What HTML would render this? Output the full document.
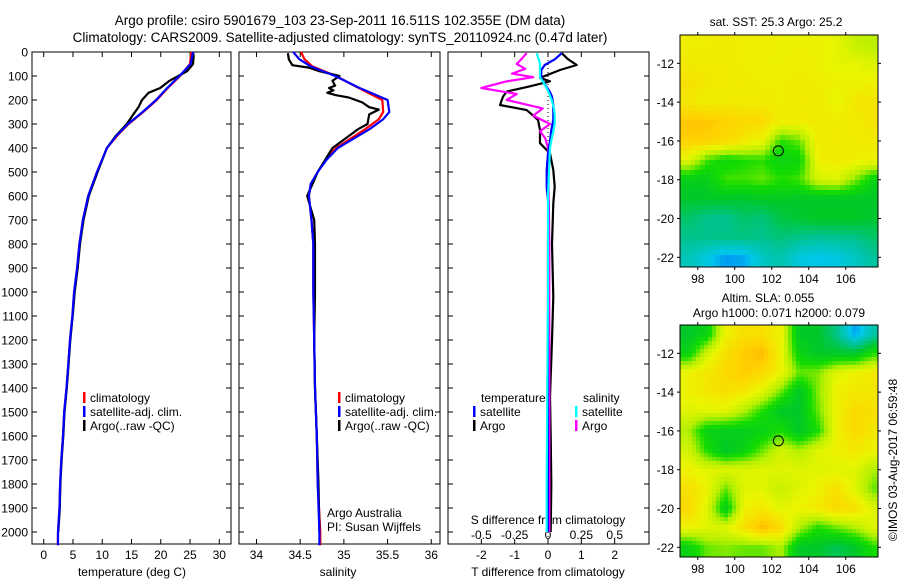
<!DOCTYPE html>
<html><head><meta charset="utf-8">
<style>
html,body{margin:0;padding:0;background:#fff;}
svg{display:block;font-family:"Liberation Sans",sans-serif;}
text{fill:#000;}
</style></head>
<body>
<svg id="fig" width="900" height="580" viewBox="0 0 900 580" xmlns="http://www.w3.org/2000/svg">
<rect x="0" y="0" width="900" height="580" fill="#fff"/>
<text x="340" y="25" font-size="13.5" text-anchor="middle">Argo profile: csiro 5901679_103 23-Sep-2011 16.511S 102.355E (DM data)</text>
<text x="340" y="42" font-size="13.5" text-anchor="middle">Climatology: CARS2009. Satellite-adjusted climatology: synTS_20110924.nc (0.47d later)</text>
<g id="g1"></g>
<g id="g2"></g>
<g id="g3"></g>
<g id="m1"></g>
<g id="m2"></g>
<text x="776" y="26" font-size="12" text-anchor="middle">sat. SST: 25.3 Argo: 25.2</text>
<text x="768" y="302" font-size="12" text-anchor="middle">Altim. SLA: 0.055</text>
<text x="779" y="317" font-size="12" text-anchor="middle">Argo h1000: 0.071 h2000: 0.079</text>
<text transform="translate(897,460) rotate(-90)" font-size="12" text-anchor="middle">©IMOS 03-Aug-2017 06:59:48</text>
</svg>
<script>
// ---- data ----
const depthTicks=[0,100,200,300,400,500,600,700,800,900,1000,1100,1200,1300,1400,1500,1600,1700,1800,1900,2000];
const tempTicks=[0,5,10,15,20,25,30];
const salTicks=[34,34.5,35,35.5,36];
const salTickLabels=["34","34.5","35","35.5","36"];
const tdiffTicks=[-2,-1,0,1,2];
const sdiffTicks=[-0.5,-0.25,0,0.25,0.5];
const sdiffTickLabels=["-0.5","-0.25","0","0.25","0.5"];
const lonTicks=[98,100,102,104,106];
const latTicks=[-12,-14,-16,-18,-20,-22];

const climDepth=[0,50,100,150,200,250,300,350,400,500,600,700,800,900,1000,1100,1200,1300,1400,1500,1600,1700,1800,1900,2000,2055];
const tempClim=[25.2,25.0,23.3,21.2,19.3,17.0,14.5,12.5,10.8,9.1,7.6,6.7,6.1,5.7,5.2,4.9,4.5,4.2,3.9,3.5,3.3,3.0,2.8,2.7,2.45,2.4];
const tempSat=[25.5,25.1,23.2,21.1,19.2,16.9,14.4,12.4,10.8,9.1,7.6,6.7,6.1,5.7,5.2,4.9,4.5,4.2,3.9,3.5,3.3,3.0,2.8,2.7,2.45,2.45];
const argoDepth=[5,25,50,80,100,120,150,170,200,230,260,300,350,400,500,600,700,800,900,1000,1100,1200,1300,1400,1500,1600,1700,1800,1900,2000];
const tempArgo=[25.6,25.6,25.5,24.5,23.0,21.5,19.9,17.9,16.8,16.2,15.3,14.2,12.3,10.8,9.2,7.7,6.8,6.2,5.8,5.3,4.95,4.55,4.25,3.95,3.55,3.35,3.05,2.85,2.75,2.5];

const salDepthC=[0,30,60,100,150,200,250,280,320,400,450,500,550,600,700,800,900,1000,1200,1400,1600,1800,2000,2055];
const salClim=[34.51,34.55,34.64,34.91,35.17,35.44,35.45,35.40,35.25,34.91,34.79,34.70,34.62,34.60,34.63,34.65,34.65,34.65,34.66,34.67,34.69,34.70,34.73,34.73];
const salSat=[34.42,34.49,34.62,34.90,35.18,35.50,35.52,35.45,35.30,34.93,34.80,34.70,34.62,34.60,34.63,34.65,34.65,34.65,34.66,34.67,34.69,34.70,34.72,34.72];
const salArgoDepth=[5,30,55,65,80,100,120,140,150,160,170,180,190,210,230,240,260,300,320,400,500,600,700,800,1000,1200,1400,1600,1800,2000];
const salArgo=[34.36,34.37,34.41,34.60,34.72,34.95,34.87,34.90,34.83,34.88,34.81,34.91,35.06,35.21,35.29,35.40,35.29,35.27,35.17,34.87,34.70,34.58,34.66,34.67,34.67,34.66,34.67,34.69,34.71,34.72];

const tdDepth=[5,30,54,75,108,122,143,165,186,221,242,283,325,380,422,492,561,631,800,1019,1200,1436,1600,1800,2000];
const tdArgo=[0.41,0.6,0.86,0.36,-0.24,0.06,-0.54,-1.24,-1.35,-1.44,-0.64,-0.30,-0.24,-0.24,0.06,0.16,0.20,0.16,0.12,0.16,0.12,0.06,0.08,0.10,0.08];
const tdSat=[0.41,0.21,-0.10,-0.20,-0.20,-0.15,-0.05,0.05,0.12,0.16,0.16,0.16,0.10,0.05,0.0,-0.04,-0.04,0.01,0.0,0.0,0.0,0.0,0.0,0.0,0.0];
const sdDepth=[5,30,50,70,90,105,122,150,175,200,235,265,300,330,360,400,600,800,1000,1400,1800,2000];
const sdArgo=[-0.16,-0.20,-0.235,-0.17,-0.27,-0.11,-0.31,-0.50,-0.235,-0.31,-0.04,-0.11,0.015,-0.06,-0.02,0.0,0.005,0.01,0.01,0.01,0.01,0.01];
const sdSat=[-0.085,-0.07,-0.06,-0.06,-0.06,-0.06,-0.04,-0.01,0.01,0.028,0.045,0.05,0.05,0.04,0.028,0.015,0.0,0.0,0.0,-0.005,-0.01,-0.01];

const mapLats=[-11,-12,-13,-14,-15,-16,-17,-18,-19,-20,-21,-22];
const mapLons=[97.5,98.5,99.5,100.5,101.5,102.5,103.5,104.5,105.5,106.5,107.5];
const sstGrid=[
[0.76,0.76,0.77,0.76,0.76,0.75,0.75,0.75,0.73,0.68,0.66],
[0.77,0.77,0.77,0.76,0.75,0.75,0.76,0.75,0.73,0.73,0.71],
[0.80,0.78,0.77,0.77,0.76,0.76,0.77,0.76,0.75,0.75,0.75],
[0.78,0.76,0.77,0.77,0.77,0.76,0.77,0.77,0.73,0.78,0.79],
[0.86,0.86,0.84,0.82,0.82,0.76,0.77,0.77,0.77,0.77,0.79],
[0.84,0.84,0.82,0.78,0.74,0.56,0.60,0.77,0.77,0.77,0.77],
[0.72,0.58,0.52,0.55,0.56,0.50,0.52,0.75,0.77,0.76,0.75],
[0.48,0.48,0.58,0.58,0.60,0.56,0.58,0.70,0.72,0.62,0.50],
[0.45,0.45,0.45,0.44,0.46,0.46,0.45,0.45,0.45,0.45,0.45],
[0.38,0.34,0.33,0.38,0.36,0.42,0.44,0.46,0.46,0.46,0.44],
[0.34,0.34,0.35,0.35,0.34,0.36,0.34,0.32,0.33,0.34,0.38],
[0.28,0.22,0.14,0.16,0.26,0.30,0.22,0.20,0.22,0.26,0.32]];
const slaGrid=[
[0.45,0.50,0.75,0.80,0.80,0.75,0.45,0.45,0.35,0.15,0.30],
[0.50,0.70,0.80,0.85,0.88,0.75,0.50,0.45,0.45,0.45,0.55],
[0.75,0.78,0.82,0.85,0.82,0.75,0.60,0.62,0.72,0.75,0.78],
[0.75,0.78,0.80,0.78,0.72,0.60,0.45,0.62,0.75,0.78,0.78],
[0.72,0.72,0.72,0.65,0.55,0.45,0.45,0.60,0.75,0.82,0.80],
[0.65,0.50,0.48,0.48,0.50,0.55,0.45,0.55,0.75,0.82,0.78],
[0.70,0.55,0.45,0.50,0.60,0.70,0.65,0.72,0.75,0.78,0.75],
[0.75,0.72,0.72,0.72,0.72,0.72,0.72,0.72,0.72,0.72,0.65],
[0.80,0.75,0.60,0.72,0.72,0.68,0.72,0.75,0.80,0.72,0.60],
[0.82,0.72,0.48,0.75,0.78,0.72,0.75,0.78,0.82,0.80,0.72],
[0.75,0.72,0.72,0.80,0.88,0.82,0.65,0.55,0.60,0.65,0.72],
[0.50,0.60,0.62,0.60,0.60,0.65,0.45,0.45,0.40,0.45,0.55]];
const argoLon=[102.355];
const argoLat=[-16.511];

// ---- helpers ----
const NS='http://www.w3.org/2000/svg';
function mk(parent,tag,attrs,txt){const e=document.createElementNS(NS,tag);for(const k in attrs)e.setAttribute(k,attrs[k]);if(txt!==undefined)e.textContent=txt;parent.appendChild(e);return e;}
const PT=52,PB=544;
const yD=d=>52+d*0.24;
const xT=t=>32+(t+2)*199/34;
const xS=s=>239+(s-33.8)*201/2.3;
const xTd=t=>448+(t+3)*200/6;
const xSd=s=>448+(s+0.75)*200/1.5;

function line(g,xs,ds,fx,color,name,w){
  const p=mk(g,'polyline',{points:xs.map((v,i)=>fx(v).toFixed(1)+','+yD(ds[i]).toFixed(1)).join(' '),fill:'none',stroke:color,'stroke-width':w||2.2,'stroke-linejoin':'round'});
  
  
}
function frame(g,x0,x1,name){
  const r=mk(g,'rect',{x:x0,y:PT,width:x1-x0,height:PB-PT,fill:'none',stroke:'#000','stroke-width':1});
  
  
  depthTicks.forEach(d=>{const y=yD(d);mk(g,'line',{x1:x0,x2:x0+5,y1:y,y2:y,stroke:'#000'});mk(g,'line',{x1:x1,x2:x1-5,y1:y,y2:y,stroke:'#000'});});
}
function legend(g,x,y,items){
  items.forEach((it,i)=>{
    const yy=y+i*14;
    const b=mk(g,'rect',{x:x,y:yy-10,width:2.5,height:11,fill:it[1]});
    
    
    const t=mk(g,'text',{x:x+7,y:yy,'font-size':12},it[0]);
    
    
  });
}

// ---- panel 1 ----
const g1=document.getElementById('g1');
frame(g1,32,231,'temperature-axes');
depthTicks.forEach(d=>{const t=mk(g1,'text',{x:28,y:yD(d)+4.5,'font-size':12,'text-anchor':'end'},String(d));});
tempTicks.forEach(v=>{const x=xT(v);mk(g1,'line',{x1:x,x2:x,y1:PT,y2:PT+5,stroke:'#000'});mk(g1,'line',{x1:x,x2:x,y1:PB,y2:PB-5,stroke:'#000'});
  const t=mk(g1,'text',{x:x,y:559,'font-size':12,'text-anchor':'middle'},String(v));});
{const t=mk(g1,'text',{x:132,y:576,'font-size':12,'text-anchor':'middle'},'temperature (deg C)');}
line(g1,tempClim,climDepth,xT,'#ff0000','temp-climatology-line');
line(g1,tempArgo,argoDepth,xT,'#000000','temp-argo-line');
line(g1,tempSat,climDepth,xT,'#0000ff','temp-satellite-line');
legend(g1,83,402,[['climatology','#f00'],['satellite-adj. clim.','#00f'],['Argo(..raw -QC)','#000']]);

// ---- panel 2 ----
const g2=document.getElementById('g2');
frame(g2,239,440,'salinity-axes');
salTicks.forEach((v,i)=>{const x=xS(v);mk(g2,'line',{x1:x,x2:x,y1:PT,y2:PT+5,stroke:'#000'});mk(g2,'line',{x1:x,x2:x,y1:PB,y2:PB-5,stroke:'#000'});
  const t=mk(g2,'text',{x:x,y:559,'font-size':12,'text-anchor':'middle'},salTickLabels[i]);});
{const t=mk(g2,'text',{x:338,y:576,'font-size':12,'text-anchor':'middle'},'salinity');}
line(g2,salClim,salDepthC,xS,'#ff0000','sal-climatology-line');
line(g2,salArgo,salArgoDepth,xS,'#000000','sal-argo-line');
line(g2,salSat,salDepthC,xS,'#0000ff','sal-satellite-line');
legend(g2,338,402,[['climatology','#f00'],['satellite-adj. clim.','#00f'],['Argo(..raw -QC)','#000']]);
{const t=mk(g2,'text',{x:327,y:517,'font-size':12},'Argo Australia');
 const t2=mk(g2,'text',{x:327,y:531,'font-size':12},'PI: Susan Wijffels');}

// ---- panel 3 ----
const g3=document.getElementById('g3');
frame(g3,448,649,'difference-axes');
mk(g3,'line',{x1:548,x2:548,y1:PT,y2:PB,stroke:'#000','stroke-dasharray':'1,3'});
tdiffTicks.forEach(v=>{const x=xTd(v);mk(g3,'line',{x1:x,x2:x,y1:PT,y2:PT+5,stroke:'#000'});
  const t=mk(g3,'text',{x:x,y:559,'font-size':12,'text-anchor':'middle'},String(v));});
sdiffTicks.forEach((v,i)=>{const x=xSd(v);mk(g3,'line',{x1:x,x2:x,y1:PB,y2:PB-5,stroke:'#000'});
  const t=mk(g3,'text',{x:x,y:539,'font-size':12,'text-anchor':'middle'},sdiffTickLabels[i]);});
{const t=mk(g3,'text',{x:548,y:524,'font-size':12,'text-anchor':'middle'},'S difference from climatology');
 const t2=mk(g3,'text',{x:548,y:576,'font-size':12,'text-anchor':'middle'},'T difference from climatology');}
line(g3,tdArgo,tdDepth,xTd,'#000000','tdiff-argo-line');
line(g3,sdArgo,sdDepth,xSd,'#ff00ff','sdiff-argo-line');
line(g3,tdSat,tdDepth,xTd,'#0000ff','tdiff-satellite-line');
line(g3,sdSat,sdDepth,xSd,'#00ffff','sdiff-satellite-line');
{const t=mk(g3,'text',{x:481,y:402,'font-size':12},'temperature');
 const t2=mk(g3,'text',{x:583,y:402,'font-size':12},'salinity');}
legend(g3,473,416,[['satellite','#00f'],['Argo','#000']]);
legend(g3,575,416,[['satellite','#0ff'],['Argo','#f0f']]);

// ---- maps ----
const stops=[[0,[0,50,255]],[0.2,[0,200,235]],[0.33,[0,195,150]],[0.45,[0,200,40]],[0.55,[20,220,0]],[0.65,[180,240,0]],[0.74,[235,245,0]],[0.84,[255,210,0]],[0.95,[255,150,0]],[1,[255,110,0]]];
function cmap(v){v=Math.max(0,Math.min(1,v));for(let i=1;i<stops.length;i++){if(v<=stops[i][0]){const a=stops[i-1],b=stops[i],f=(v-a[0])/(b[0]-a[0]);return 'rgb('+a[1].map((c,k)=>Math.round(c+(b[1][k]-c)*f)).join(',')+')';}}return 'rgb(255,110,0)';}
function drawMap(id,grid,y0,name,cell){
  const g=document.getElementById(id);
  const X0=680,X1=878,Y1=y0+232;
  const xL=lon=>X0+(lon-97.04)*18.5, yL=lat=>y0+(-10.54-lat)*19.4;
  const interp=(lon,lat)=>{let fc=(lon-97.5),fr=(-11-lat);fc=Math.max(0,Math.min(10,fc));fr=Math.max(0,Math.min(11,fr));
    const c0=Math.min(9,Math.floor(fc)),r0=Math.min(10,Math.floor(fr)),dc=fc-c0,dr=fr-r0;
    return grid[r0][c0]*(1-dc)*(1-dr)+grid[r0][c0+1]*dc*(1-dr)+grid[r0+1][c0]*(1-dc)*dr+grid[r0+1][c0+1]*dc*dr;};
  const hm=mk(g,'g',{});
  
  
  for(let x=X0;x<X1;x+=cell)for(let y=y0;y<Y1;y+=cell){
    const lon=97.04+(x+cell/2-X0)/18.5,lat=-10.54-(y+cell/2-y0)/19.4;
    mk(hm,'rect',{x:x,y:y,width:Math.min(cell,X1-x)+0.3,height:Math.min(cell,Y1-y)+0.3,fill:cmap(interp(lon,lat))});
  }
  const fr=mk(g,'rect',{x:X0,y:y0,width:X1-X0,height:Y1-y0,fill:'none',stroke:'#000'});
  
  
  lonTicks.forEach(v=>{const x=xL(v);mk(g,'line',{x1:x,x2:x,y1:y0,y2:y0-3,stroke:'#000'});mk(g,'line',{x1:x,x2:x,y1:Y1,y2:Y1+3,stroke:'#000'});
    const t=mk(g,'text',{x:x,y:Y1+16,'font-size':12,'text-anchor':'middle'},String(v));});
  latTicks.forEach(v=>{const y=yL(v);mk(g,'line',{x1:X0,x2:X0-3,y1:y,y2:y,stroke:'#000'});mk(g,'line',{x1:X1,x2:X1+3,y1:y,y2:y,stroke:'#000'});
    const t=mk(g,'text',{x:674,y:y+4.5,'font-size':12,'text-anchor':'end'},String(v));});
  const c=mk(g,'circle',{cx:xL(argoLon[0]),cy:yL(argoLat[0]),r:5,fill:'none',stroke:'#000','stroke-width':1});
  
  
}
drawMap('m1',sstGrid,35,'sst-map',5);
drawMap('m2',slaGrid,325,'sla-map',4);
</script>
</body></html>
